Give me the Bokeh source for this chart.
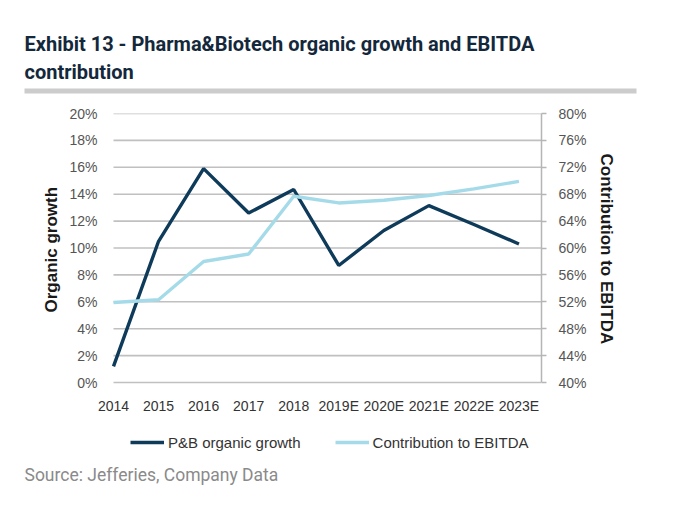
from bokeh.plotting import figure
from bokeh.models import (Range1d, LinearAxis, FixedTicker, PrintfTickFormatter,
                          Legend, LegendItem, CustomJSTickFormatter, Title,
                          ColorBar, LinearColorMapper)
from bokeh.embed import file_html
from bokeh.resources import INLINE

years = ["2014", "2015", "2016", "2017", "2018", "2019E", "2020E", "2021E", "2022E", "2023E"]
organic_growth = [1.2, 10.5, 15.9, 12.6, 14.35, 8.7, 11.3, 13.15, 11.75, 10.3]
ebitda_contribution = [51.9, 52.3, 58.0, 59.1, 67.7, 66.7, 67.1, 67.8, 68.8, 69.9]
left_ticks = [0, 2, 4, 6, 8, 10, 12, 14, 16, 18, 20]
right_ticks = [40, 44, 48, 52, 56, 60, 64, 68, 72, 76, 80]

title_text = "Exhibit 13 - Pharma&Biotech organic growth and EBITDA\ncontribution"
left_label = "Organic growth"
right_label = "Contribution to EBITDA"
source_text = "Source: Jefferies, Company Data"

DARK = "#0f3b5b"
LIGHT = "#a5dbe9"
GRID = "#c0c0c0"
TICK = "#555555"
TITLE_C = "#14283c"

# layout (pixels)
W, H = 684, 509
PL, FR, FT = 113, 541, 113     # plot-area left (first category), right, top
FL = 95                          # frame left (a bit of room for the first x label)
AXIS_Y = 382                     # pixel row of the 0 % / 40 % baseline
FB = 460                         # frame bottom (room for legend inside frame)

n = len(years)
x_hi = n - 0.5
ppx = (FR - PL) / x_hi
L_LO, L_HI = left_ticks[0], left_ticks[-1]
R_LO, R_HI = right_ticks[0], right_ticks[-1]
ppu_l = (AXIS_Y - FT) / (L_HI - L_LO)
ppu_r = (AXIS_Y - FT) / (R_HI - R_LO)
extra_px = FB - AXIS_Y

xs = list(range(n))
p = figure(width=W, height=H, output_backend="svg", toolbar_location=None,
           x_range=Range1d(-(PL - FL) / ppx, x_hi),
           y_range=Range1d(L_LO - extra_px / ppu_l, L_HI),
           min_border_left=FL, min_border_right=W - FR, min_border_top=FT,
           min_border_bottom=H - FB, outline_line_color=None)
p.title = None
p.extra_y_ranges = {"ebitda": Range1d(R_LO - extra_px / ppu_r, R_HI)}

ya = p.yaxis[0]
ya.ticker = FixedTicker(ticks=left_ticks)
ya.bounds = (L_LO, L_HI)
ya.formatter = PrintfTickFormatter(format="%d%%")
ya.axis_line_color = None
ya.major_tick_line_color = None
ya.minor_tick_line_color = None
ya.major_label_standoff = 10 - (PL - FL)
ya.major_label_text_font = "Liberation Sans"
ya.major_label_text_font_size = "14px"
ya.major_label_text_color = TICK

xa = p.xaxis[0]
xa.fixed_location = L_LO
xa.ticker = FixedTicker(ticks=xs)
xa.formatter = CustomJSTickFormatter(args=dict(labels=years),
                                     code="return labels[Math.round(tick)] || '';")
xa.axis_line_color = None
xa.major_tick_line_color = None
xa.minor_tick_line_color = None
xa.major_label_standoff = 9
xa.major_label_text_font = "Liberation Sans"
xa.major_label_text_font_size = "14px"
xa.major_label_text_color = "#333333"

ra = LinearAxis(y_range_name="ebitda", ticker=FixedTicker(ticks=right_ticks),
                formatter=PrintfTickFormatter(format="%d%%"), bounds=(R_LO, R_HI))
ra.axis_line_color = "#b5b5b5"
ra.axis_line_width = 1.5
ra.major_tick_line_color = "#b5b5b5"
ra.major_tick_line_width = 1.5
ra.major_tick_out = 5
ra.major_tick_in = 0
ra.minor_tick_line_color = None
ra.major_label_standoff = 12
ra.major_label_text_font = "Liberation Sans"
ra.major_label_text_font_size = "14px"
ra.major_label_text_color = TICK
p.add_layout(ra, "right")

# axis titles (placed as panel titles so they centre on the plotted range)
p.add_layout(Title(text=left_label, align="left", offset=FB - 312, standoff=12,
                   text_font="Liberation Sans", text_font_style="bold",
                   text_font_size="17px", text_color="#1a1a1a"), "left")
p.add_layout(Title(text=right_label, align="left", offset=153 - FT, standoff=15,
                   text_font="Liberation Sans", text_font_style="bold",
                   text_font_size="17px", text_color="#1a1a1a"), "right")

# horizontal gridlines over the plotted categories only
p.xgrid.grid_line_color = None
p.ygrid.grid_line_color = None
p.segment(x0=[0] * len(left_ticks), x1=[x_hi] * len(left_ticks),
          y0=left_ticks, y1=left_ticks, line_color=GRID, line_width=1.6)

r1 = p.line(xs, organic_growth, line_color=DARK, line_width=3.4)
r2 = p.line(xs, ebitda_contribution, y_range_name="ebitda", line_color=LIGHT, line_width=3.4)

legend = Legend(items=[LegendItem(label="P&B organic growth", renderers=[r1]),
                       LegendItem(label="Contribution to EBITDA", renderers=[r2])],
                orientation="horizontal", location=(130 - FL, 8),
                border_line_color=None, background_fill_alpha=0,
                label_text_font="Liberation Sans", label_text_font_size="15px",
                label_text_color="#333333", glyph_width=34, label_standoff=4,
                spacing=34, padding=0, margin=0)
p.add_layout(legend, "center")

p.add_layout(Title(text=source_text, align="left", offset=24 - FL, standoff=5,
                   text_font="Roboto", text_font_style="normal",
                   text_font_size="17.5px", text_color="#8a8a8a"), "below")

# grey rule under the title
bar = ColorBar(color_mapper=LinearColorMapper(palette=["#cccccc"], low=0, high=1),
               orientation="horizontal", width=612, height=5,
               ticker=FixedTicker(ticks=[]), major_tick_line_color=None,
               minor_tick_line_color=None, bar_line_color=None,
               border_line_color=None, background_fill_alpha=0,
               padding=0, margin=0, location=(24 - FL, 20))
p.add_layout(bar, "above")

p.add_layout(Title(text=title_text, align="left", offset=24 - FL, standoff=8,
                   text_font="Roboto", text_font_style="bold",
                   text_font_size="20px", text_color=TITLE_C,
                   text_line_height=1.2), "above")

open("out.html", "w").write(file_html(p, INLINE))
